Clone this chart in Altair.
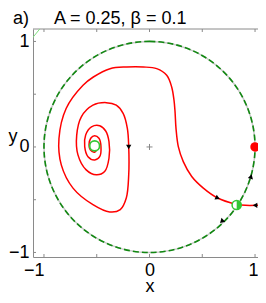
import math
import altair as alt
import pandas as pd

# ---------------- data ----------------
# trajectory spiralling out of the focus and into the saddle
traj_x = [-0.497, -0.52, -0.561, -0.573, -0.557, -0.52, -0.479, -0.46, -0.472, -0.519,
          -0.583, -0.614, -0.605, -0.55, -0.472, -0.415, -0.384, -0.384, -0.425, -0.504,
          -0.6, -0.678, -0.69, -0.646, -0.536, -0.41, -0.315, -0.25, -0.21, -0.197,
          -0.197, -0.22, -0.277, -0.377, -0.536, -0.725, -0.836, -0.858, -0.79, -0.63,
          -0.532, -0.374, -0.216, -0.058, 0.068, 0.163, 0.21, 0.232, 0.242, 0.251,
          0.273, 0.32, 0.4, 0.51, 0.646, 0.826]
traj_y = [-0.016, -0.05, -0.028, 0.02, 0.082, 0.107, 0.082, 0.003, -0.092, -0.123,
          -0.092, 0.003, 0.113, 0.19, 0.201, 0.151, 0.05, -0.107, -0.233, -0.264,
          -0.217, -0.075, 0.11, 0.286, 0.396, 0.42, 0.396, 0.318, 0.176, 0.003,
          -0.264, -0.484, -0.594, -0.616, -0.547, -0.39, -0.17, 0.08, 0.365, 0.585,
          0.663, 0.742, 0.758, 0.758, 0.742, 0.679, 0.569, 0.443, 0.333, 0.176,
          0.003, -0.139, -0.28, -0.39, -0.484, -0.547]
# stable manifold coming in from the right
manifold_x = [1.12, 1.03, 0.95, 0.826]
manifold_y = [-0.535, -0.553, -0.555, -0.547]
# short light-green line in the top-left corner
corner_x = [-1.12, -1.03]
corner_y = [1.02, 1.13]

# direction arrows (angle: clockwise from up, screen space)
arrow_x = [-0.197, 0.646, 1.0, 0.962, 0.684]
arrow_y = [0.0, -0.484, -0.553, -0.28, -0.705]
arrow_angle = [180, 115, 270, 16, 226]

focus_x, focus_y = [-0.52], [0.01]
saddle_x, saddle_y = [0.826], [-0.55]
node_x, node_y = [1.0], [0.0]
circle_cx, circle_cy, circle_r = [0.0], [0.0], [1.0]
origin_x, origin_y = [0.0], [0.0]

tick_vals = [-1, -0.5, 0, 0.5, 1]
label_vals = [-1, 0, 1]
title_text = "a)\u00a0\u00a0\u00a0\u00a0\u00a0A = 0.25, \u03b2 = 0.1"

# ---------------- layout ----------------
W, H = 225, 228
XD = [-1.104, 1.028]
YD = [-1.043, 1.118]
PX_PER_UNIT = W / (XD[1] - XD[0])
FONT = "Liberation Sans"
RED = "#ff0000"
DGREEN = "#118811"
GREEN = "#33c633"
FRAME = "#8a8a8a"

xs = alt.Scale(domain=XD, nice=False, zero=False)
ys = alt.Scale(domain=YD, nice=False, zero=False)
xaxis = alt.Axis(values=label_vals, title="x",
                 labelAlign=alt.expr("datum.value < 0 || datum.value > 0.5 ? 'right' : 'center'"),
                 labelOffset=alt.expr("datum.value > 0.5 ? 3 : 0"),
                 labelPadding=4, titleX=116.5, titleY=34, titleBaseline="alphabetic")
yaxis = alt.Axis(values=label_vals, title="y", titleAngle=0, titleX=-25, titleY=112,
                 titleAlign="left", titleBaseline="alphabetic", labelPadding=4)


def X(f):
    return alt.X(f, type="quantitative", scale=xs, axis=xaxis)


def Y(f):
    return alt.Y(f, type="quantitative", scale=ys, axis=yaxis)


traj = pd.DataFrame({"x": traj_x, "y": traj_y, "i": range(len(traj_x))})
man = pd.DataFrame({"x": manifold_x, "y": manifold_y, "i": range(len(manifold_x))})
corner = pd.DataFrame({"x": corner_x, "y": corner_y, "i": range(len(corner_x))})
arrows = pd.DataFrame({"x": arrow_x, "y": arrow_y, "a": arrow_angle})
circ = pd.DataFrame({"x": circle_cx, "y": circle_cy, "r": circle_r})
ticks = pd.DataFrame({"t": tick_vals})

rscale = alt.Scale(type="linear", domain=[0, 1], range=[0, PX_PER_UNIT], zero=True)

circle_under = alt.Chart(circ).mark_arc(filled=False, stroke="#c8c8c8", strokeWidth=1.5,
                                        theta=0, theta2=2 * math.pi).encode(
    x=X("x"), y=Y("y"), radius=alt.Radius("r:Q", scale=rscale))
circle_dash = alt.Chart(circ).mark_arc(filled=False, stroke=DGREEN, strokeWidth=1.6,
                                       strokeDash=[6, 3], theta=0, theta2=2 * math.pi).encode(
    x=X("x"), y=Y("y"), radius=alt.Radius("r:Q", scale=rscale))

traj_line = alt.Chart(traj).mark_line(color=RED, strokeWidth=1.5, clip=True,
                                      interpolate="catmull-rom").encode(
    x=X("x"), y=Y("y"), order="i:Q")
man_line = alt.Chart(man).mark_line(color=RED, strokeWidth=1.5, clip=True).encode(
    x=X("x"), y=Y("y"), order="i:Q")
corner_line = alt.Chart(corner).mark_line(color="#7fe07f", strokeWidth=1, clip=True).encode(
    x=X("x"), y=Y("y"), order="i:Q")

arrow_pts = alt.Chart(arrows).mark_point(shape="triangle-up", filled=True, color="black",
                                         size=28, opacity=1).encode(
    x=X("x"), y=Y("y"), angle=alt.Angle("a:Q", scale=None))

origin_pt = alt.Chart(pd.DataFrame({"x": origin_x, "y": origin_y})).mark_point(
    shape="M-1,0L1,0M0,-1L0,1", size=36, filled=False, stroke="#888888", strokeWidth=1,
    opacity=1).encode(x=X("x"), y=Y("y"))

node_pt = alt.Chart(pd.DataFrame({"x": node_x, "y": node_y})).mark_point(
    shape="circle", size=90, filled=True, color=RED, opacity=1).encode(x=X("x"), y=Y("y"))

focus_pt = alt.Chart(pd.DataFrame({"x": focus_x, "y": focus_y})).mark_point(
    shape="circle", size=100, filled=False, stroke=GREEN, strokeWidth=1.8, fill="white",
    fillOpacity=1, opacity=1).encode(x=X("x"), y=Y("y"))

saddle_df = pd.DataFrame({"x": saddle_x, "y": saddle_y})
saddle_open = alt.Chart(saddle_df).mark_point(
    shape="circle", size=85, filled=False, stroke=GREEN, strokeWidth=1.5, fill="white",
    fillOpacity=1, opacity=1).encode(x=X("x"), y=Y("y"))
saddle_half = alt.Chart(saddle_df).mark_point(
    shape="M0,-1A1,1,0,0,1,0,1Z", size=85, filled=True, color=GREEN, opacity=1).encode(
    x=X("x"), y=Y("y"))

TL = 3
tick_bottom = alt.Chart(ticks).mark_rule(color=FRAME, strokeWidth=1).encode(
    x=X("t"), y=alt.value(H), y2=alt.value(H - TL))
tick_top = alt.Chart(ticks).mark_rule(color=FRAME, strokeWidth=1).encode(
    x=X("t"), y=alt.value(0), y2=alt.value(TL))
tick_left = alt.Chart(ticks).mark_rule(color=FRAME, strokeWidth=1).encode(
    y=Y("t"), x=alt.value(0), x2=alt.value(TL))
top_frame = alt.Chart(pd.DataFrame({"k": [0]})).mark_rule(color=FRAME, strokeWidth=1).encode(
    x=alt.value(0), x2=alt.value(W), y=alt.value(0))

title_mark = alt.Chart(pd.DataFrame({"t": [title_text]})).mark_text(
    align="left", baseline="alphabetic", font=FONT, fontSize=18, color="black").encode(
    text="t:N", x=alt.value(-20), y=alt.value(-5))

chart = alt.layer(
    top_frame, tick_bottom, tick_top, tick_left,
    corner_line, circle_under, circle_dash, traj_line, man_line, origin_pt,
    arrow_pts, node_pt, focus_pt, saddle_open, saddle_half, title_mark,
).properties(
    width=W, height=H,
    padding={"left": 25, "top": 21, "right": 0, "bottom": 37},
    autosize=alt.AutoSizeParams(type="none"),
).configure_view(
    stroke=None
).configure_axis(
    domain=True, domainColor=FRAME, domainWidth=1, ticks=False, grid=False,
    labelFont=FONT, labelFontSize=18, labelColor="black", titleFont=FONT,
    titleFontSize=18, titleFontWeight="normal", titleColor="black"
)

chart.save("out.html", embed_options={"renderer": "svg", "actions": False})
